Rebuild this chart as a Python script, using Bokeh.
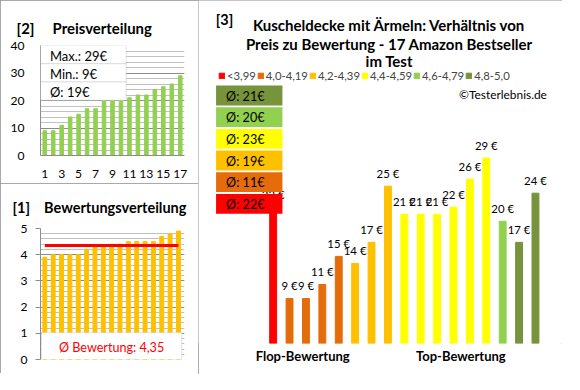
from bokeh.plotting import figure
from bokeh.layouts import row, column
from bokeh.models import (BoxAnnotation, Label, Range1d, SingleIntervalTicker,
                          FixedTicker, ColumnDataSource, Legend, LegendItem)
from bokeh.core.properties import value
from bokeh.embed import file_html
from bokeh.resources import INLINE

# ---------------- data ----------------
products = list(range(1, 18))
ratings = [3.9, 4.0, 4.0, 4.0, 4.0, 4.2, 4.3, 4.3, 4.4, 4.4, 4.5, 4.5, 4.5, 4.5, 4.7, 4.8, 4.9]
prices = [22, 9, 9, 11, 15, 14, 17, 25, 21, 21, 21, 22, 26, 29, 20, 17, 24]
price_axis_ticks = [1, 3, 5, 7, 9, 11, 13, 15, 17]
category_labels = ["<3,99", "4,0-4,19", "4,2-4,39", "4,4-4,59", "4,6-4,79", "4,8-5,0"]
category_lower = [0.0, 4.0, 4.2, 4.4, 4.6, 4.8]
category_colors = ["#FF0000", "#E46C0A", "#FFC000", "#FFFF00", "#92D050", "#77933C"]
group_labels = ["Flop-Bewertung", "Top-Bewertung"]
group_positions = [2.8, 12.45]

# ---------------- style ----------------
SX, SY = 0.977, 0.966
FONT = "Lato"
GRID_MAJOR = "#8C8C8C"
GRID_MINOR = "#C0C0C0"
BORDER = "#8C8C8C"
BOX_LINE = "#A6A6A6"
TXT = "#000000"
NB = "\u00a0"


def fs(v):
    return f"{v * SY:.1f}px"


def pxx(v):
    return int(round(v * SX))


def pxy(v):
    return int(round(v * SY))


def base_fig(w, h, xr, yr, left, right, top, bottom, **kw):
    p = figure(width=pxx(w), height=pxy(h), x_range=Range1d(*xr), y_range=Range1d(*yr),
               output_backend="svg", toolbar_location=None,
               min_border_left=pxx(left), min_border_right=pxx(right),
               min_border_top=pxy(top), min_border_bottom=pxy(bottom),
               styles={"outline": f"1px solid {BORDER}", "outline-offset": "-1px"}, **kw)
    p.outline_line_color = None
    p.background_fill_color = "white"
    p.border_fill_color = "white"
    return p


def label(p, x, y, text, size, bold=False, align="left", color=TXT):
    p.add_layout(Label(x=x, y=y, text=text, text_font=FONT, text_font_size=fs(size),
                       text_font_style="bold" if bold else "normal",
                       text_align=align, text_baseline="middle", text_color=color))


def panel_title(p, text, offset, standoff, size):
    p.title.text = text
    p.title.align = "left"
    p.title.offset = offset
    p.title.standoff = standoff
    p.title.text_font = FONT
    p.title.text_font_size = fs(size)
    p.title.text_font_style = "bold"
    p.title.text_color = TXT


# =============== Panel [2] Preisverteilung ===============
W2, H2 = 204, 190
L2, R2, T2, B2 = 41, 189, 47, 159.5


def x2(rx):
    return 0.5 + (rx - L2) / (R2 - L2) * 17


def y2(ry):
    return (B2 - ry) / (B2 - T2) * 40


p2 = base_fig(W2, H2, (0.5, 17.5), (0, 40), L2, W2 - R2, T2, H2 - B2)
t2 = SingleIntervalTicker(interval=10, num_minor_ticks=5)
p2.yaxis.ticker = t2
p2.ygrid.ticker = t2
p2.xaxis.ticker = FixedTicker(ticks=price_axis_ticks)
p2.xgrid.visible = False
p2.ygrid.grid_line_color = GRID_MAJOR
p2.ygrid.minor_grid_line_color = GRID_MINOR
for ax in p2.axis:
    ax.axis_line_color = GRID_MAJOR
    ax.major_tick_line_color = None
    ax.minor_tick_line_color = None
    ax.major_tick_out = 0
    ax.major_tick_in = 0
    ax.major_label_text_font = FONT
    ax.major_label_text_font_size = fs(12.5)
    ax.major_label_text_color = TXT
p2.yaxis.major_label_standoff = pxx(12)
p2.xaxis.major_label_standoff = pxy(15)

p2.vbar(x=products, top=sorted(prices), width=0.42, color="#92D050")

mean_price = sum(prices) / len(prices)
info_rows = [47, 65.7, 84.3, 103]
info_texts = [f"Max.: {max(prices):.0f}€", f"Min.: {min(prices):.0f}€", f"Ø: {mean_price:.0f}€"]
for i, t in enumerate(info_texts):
    p2.add_layout(BoxAnnotation(left=x2(41), right=x2(129), top=y2(info_rows[i]),
                                bottom=y2(info_rows[i + 1]), fill_color="white", fill_alpha=1,
                                line_color=BOX_LINE, line_width=1))
for i, t in enumerate(info_texts):
    label(p2, x2(50.7), y2((info_rows[i] + info_rows[i + 1]) / 2 + 1), t, 13.5)

panel_title(p2, "[2]" + NB * 5 + "Preisverteilung", pxx(16) - pxx(L2), 17, 15.4)

# =============== Panel [1] Bewertungsverteilung ===============
W1, H1 = 204, 197
L1, R1, T1, B1 = 33, 192, 46.7, 182
BAR1_X, BAR_STEP1 = 37.8, 9.22


def x1(rx):
    return 1 + (rx - BAR1_X) / BAR_STEP1


def y1(ry):
    return (B1 - ry) / (B1 - T1) * 5


p1 = base_fig(W1, H1, (x1(L1), x1(R1)), (0, 5), L1, W1 - R1, T1, H1 - B1,
              x_axis_location=None, margin=(-1, 0, 0, 0))
t1 = SingleIntervalTicker(interval=1, num_minor_ticks=5)
p1.yaxis.ticker = t1
p1.ygrid.ticker = t1
p1.xgrid.visible = False
p1.ygrid.grid_line_color = GRID_MAJOR
p1.ygrid.minor_grid_line_color = GRID_MINOR
ax = p1.yaxis[0]
ax.axis_line_color = GRID_MAJOR
ax.major_tick_line_color = GRID_MAJOR
ax.minor_tick_line_color = None
ax.major_tick_out = pxx(5)
ax.major_tick_in = 0
ax.major_label_standoff = pxx(8)
ax.major_label_text_font = FONT
ax.major_label_text_font_size = fs(12.5)
ax.major_label_text_color = TXT

p1.vbar(x=products, top=ratings, width=0.47, color="#FFC000")
mean_rating = sum(ratings) / len(ratings)
p1.line(x=[products[0], products[-1]], y=[mean_rating, mean_rating], line_width=3, color="#FF0000")

p1.add_layout(BoxAnnotation(left=x1(34), right=x1(189), top=y1(154), bottom=0,
                            fill_color="white", fill_alpha=1, line_color=BOX_LINE, line_width=1))
label(p1, x1((34 + 189) / 2), y1(169.7), f"Ø Bewertung: {mean_rating:.2f}".replace(".", ","),
      13, align="center", color="#FF0000")
panel_title(p1, "[1]" + NB * 4 + "Bewertungsverteilung", pxx(12.3) - pxx(L1) - 8, 26, 15)

# =============== Panel [3] Preis zu Bewertung ===============
W3, H3 = 373, 387
BASE = 2.6
B3 = 354.7
PX_X, PX_Y = 16.8, 7.265


def x3(rx):
    return 1 + (rx - 76.5) / PX_X


def y3(ry):
    return BASE + (B3 - ry) / PX_Y


p3 = base_fig(W3, H3, (x3(0), x3(W3)), (BASE, y3(0)), 0, 0, 0, H3 - B3,
              y_axis_location=None, margin=(0, 0, 0, -1))
p3.grid.visible = False

cat_idx = [max(i for i, lo in enumerate(category_lower) if r >= lo) for r in ratings]
src = ColumnDataSource(dict(
    x=products, top=prices,
    color=[category_colors[i] for i in cat_idx],
    label=[f"{p:.0f} €" for p in prices],
))
bars3 = p3.vbar(x="x", top="top", bottom=0, width=0.42, color="color", source=src)
p3.text(x="x", y="top", text="label", source=src, text_align="center", text_baseline="middle",
        y_offset=-pxy(13.5), text_font=value(FONT), text_font_size=value(fs(11.8)), text_color=TXT)

xa = p3.xaxis[0]
xa.ticker = FixedTicker(ticks=group_positions)
xa.major_label_overrides = dict(zip(group_positions, group_labels))
xa.axis_line_color = None
xa.major_tick_line_color = None
xa.minor_tick_line_color = None
xa.major_tick_out = 0
xa.major_tick_in = 0
xa.major_label_standoff = pxy(4)
xa.major_label_text_font = FONT
xa.major_label_text_font_style = "bold"
xa.major_label_text_font_size = fs(13.5)
xa.major_label_text_color = TXT

legend_items = [LegendItem(label=category_labels[ci], renderers=[bars3], index=cat_idx.index(ci))
                for ci in range(len(category_labels))]
lg = Legend(items=legend_items, orientation="horizontal", location=(pxx(20), pxy(B3 - 85)),
            glyph_width=pxx(7), glyph_height=pxy(7), label_text_font=FONT,
            label_text_font_size=fs(11.7), label_height=pxy(10), label_standoff=pxx(2),
            spacing=1, padding=0, margin=0, border_line_color=None,
            background_fill_alpha=0)
p3.add_layout(lg)

# average price per rating class (stacked boxes, top = best class)
for k, ci in enumerate(reversed(range(len(category_labels)))):
    vals = [p for p, c in zip(prices, cat_idx) if c == ci]
    avg = int(sum(vals) / len(vals) + 0.5)
    top = 88 + 22.4 * k
    p3.add_layout(BoxAnnotation(left=x3(18), right=x3(86), top=y3(top), bottom=y3(top + 20.5),
                                fill_color=category_colors[ci], fill_alpha=1, line_color=None))
    label(p3, x3(28.3), y3(top + 10.8), f"Ø: {avg}€", 13)

label(p3, x3(17.7), y3(19.8), "[3]", 15, bold=True)
title_lines = ["Kuscheldecke mit Ärmeln: Verhältnis von",
               "Preis zu Bewertung - 17 Amazon Bestseller", "im Test"]
for ty, t in zip([25, 45, 62.3], title_lines):
    label(p3, x3(195.5), y3(ty), t, 15.5, bold=True, align="center")
label(p3, x3(357), y3(97.3), "©Testerlebnis.de", 12.3, align="right")

layout = row(column(p2, p1), p3)
open("out.html", "w").write(file_html(layout, INLINE))
